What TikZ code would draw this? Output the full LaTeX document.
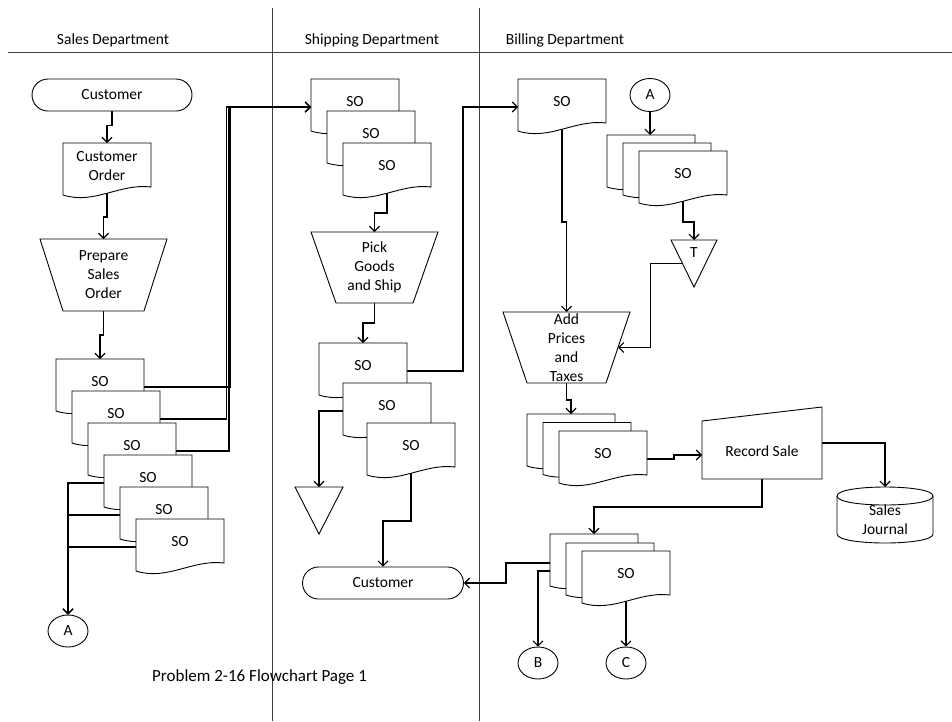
\documentclass[tikz,border=0pt]{standalone}
\usepackage{fontspec}
\setmainfont{Carlito}
\usetikzlibrary{arrows.meta,shapes.geometric,calc}
\pgfdeclarelayer{background}
\pgfsetlayers{background,main}
\tikzset{
  every node/.style={font=\fontsize{15.5}{19}\selectfont},
  shp/.style={draw=black, line width=0.9pt, fill=white},
  box/.style={draw=none, inner sep=0pt, outer sep=0pt, anchor=north west},
  docbox/.style={box, minimum width=88pt, minimum height=52pt},
  terminal/.style={shp, rounded corners=16pt, minimum width=160pt, minimum height=32pt, inner sep=0pt},
  conn/.style={shp, ellipse, minimum width=40pt, minimum height=32pt, inner sep=0pt},
  flow/.style={line width=1.1pt, -{Straight Barb[length=5pt,width=10pt]}},
  lane/.style={line width=0.9pt, draw=black!75},
  lbl/.style={inner sep=0pt, align=center},
}
\newcommand{\docnode}[4]{%
  \node[docbox] (#1) at (#2,#3) {};
  \draw[shp] (#1.north west) -- (#1.north east) -- ($(#1.north east)+(0,44)$)
    .. controls ($(#1.north west)+(57,40)$) and ($(#1.north west)+(31,62)$) .. ($(#1.north west)+(0,52)$) -- cycle;
  \node[lbl] (#1t) at ($(#1.north)+(0,23)$) {#4};
}
\newcommand{\trapnode}[7]{%
  \node[box, minimum width=#4pt, minimum height=#5pt] (#1) at (#2,#3) {};
  \draw[shp] (#1.north west) -- (#1.north east) -- ([xshift=-#6pt]#1.south east) -- ([xshift=#6pt]#1.south west) -- cycle;
  \node[lbl] (#1t) at (#1.center) {#7};
}
\begin{document}
\begin{tikzpicture}[x=1pt,y=-1pt]
\useasboundingbox (0,0) rectangle (952,721);

% headers
\node (h1) at (113,40) {Sales Department};
\node (h2) at (372,40) {Shipping Department};
\node (h3) at (565,40) {Billing Department};

% ---------- Sales ----------
\node[terminal] (cust1) at (112,95) {Customer};
\docnode{co}{63}{143}{Customer\\Order}
\trapnode{pso}{40}{239}{127}{72}{23}{Prepare\\Sales\\Order}
\docnode{s1}{56}{359}{SO}
\docnode{s2}{72}{391}{SO}
\docnode{s3}{88}{423}{SO}
\docnode{s4}{104}{455}{SO}
\docnode{s5}{120}{487}{SO}
\docnode{s6}{136}{519}{SO}
\node[conn] (aS) at (68,631) {A};

% ---------- Shipping ----------
\docnode{sh1}{311}{79}{SO}
\docnode{sh2}{327}{111}{SO}
\docnode{sh3}{343}{143}{SO}
\trapnode{pick}{311}{232}{127}{71}{25}{Pick\\Goods\\and Ship}
\docnode{sd1}{319}{343}{SO}
\docnode{sd2}{343}{383}{SO}
\docnode{sd3}{367}{423}{SO}
\node[box, minimum width=48pt, minimum height=47pt] (tri1) at (295,487) {};
\draw[shp] (tri1.north west) -- (tri1.north east) -- (tri1.south) -- cycle;
\node[terminal, minimum width=161pt] (cust2) at (383,583) {Customer};

% ---------- Billing ----------
\docnode{b1}{518}{79}{SO}
\node[conn, minimum height=33pt] (aB) at (650,95) {A};
\docnode{bs1}{607}{135}{}
\docnode{bs2}{623}{143}{}
\docnode{bs3}{639}{151}{SO}
\node[box, minimum width=46pt, minimum height=47pt] (tT) at (671,240) {};
\draw[shp] (tT.north west) -- (tT.north east) -- (tT.south) -- cycle;
\node[lbl] (tTt) at ($(tT.north)+(0,13)$) {T};
\trapnode{add}{503}{312}{127}{71}{24}{Add\\Prices\\and\\Taxes}
\docnode{bm1}{527}{414}{}
\docnode{bm2}{543}{422.5}{}
\docnode{bm3}{559}{431}{SO}
\node[box, minimum width=120pt, minimum height=72pt] (rec) at (702,407) {};
\draw[shp] (rec.south west) -- ($(rec.north west)+(0,14)$) -- (rec.north east) -- (rec.south east) -- cycle;
\node[lbl] (rect) at ($(rec.center)+(0,8)$) {Record Sale};
\node[box, minimum width=96pt, minimum height=56pt] (sj) at (837,487) {};
\draw[shp] ($(sj.north west)+(0,9)$) -- ($(sj.south west)+(0,-9)$)
  .. controls ($(sj.south west)+(0,3)$) and ($(sj.south east)+(0,3)$) .. ($(sj.south east)+(0,-9)$)
  -- ($(sj.north east)+(0,9)$)
  .. controls ($(sj.north east)+(0,-3)$) and ($(sj.north west)+(0,-3)$) .. cycle;
\draw[line width=0.9pt] ($(sj.north west)+(0,9)$) .. controls ($(sj.north west)+(0,21)$) and ($(sj.north east)+(0,21)$) .. ($(sj.north east)+(0,9)$);
\node[lbl] (sjt) at ($(sj.center)+(0,5)$) {Sales\\Journal};
\docnode{bb1}{550}{534}{}
\docnode{bb2}{566}{543}{}
\docnode{bb3}{582}{551}{SO}
\node[conn] (bC) at (538,663) {B};
\node[conn] (cC) at (626,663) {C};

\node[font=\fontsize{17}{20}\selectfont, anchor=west, inner sep=0pt] (title) at (152,677) {Problem 2-16 Flowchart Page 1};

% ---------- lines behind shapes ----------
\begin{pgfonlayer}{background}
\draw[lane] (272,8) -- (272,721);
\draw[lane] (479,8) -- (479,721);
\draw[lane] (8,52) -- (952,52);

\draw[flow] (cust1.south) -- ++(0,14) -| (co.north);
\draw[flow] (co.center) -- ($(co.south)+(0,22)$) -| (pso.north);
\draw[flow] (pso.south) -- ++(0,24) -| (s1.north);
\draw[flow] ($(s1.north east)+(0,28)$) -- ++(86,0) |- ($(sh1.north west)+(0,28)$);
\draw[flow] ($(s2.north east)+(0,28)$) -- ++(66.5,0) |- ($(sh1.north west)+(0,28)$);
\draw[flow] ($(s3.north east)+(0,28)$) -- ++(53,0) |- ($(sh1.north west)+(0,28)$);
\draw[flow] ($(s4.north west)+(0,28)$) -| (aS.north);
\draw[flow] ($(s5.north west)+(0,28)$) -| (aS.north);
\draw[flow] ($(s6.north west)+(0,28)$) -| (aS.north);

\draw[flow] (sh3.center) -- ($(sh3.south)+(0,18)$) -| (pick.north);
\draw[flow] (pick.south) -- ++(0,20) -| (sd1.north);
\draw[flow] ($(sd1.north east)+(0,28)$) -- ++(56,0) |- ($(b1.north west)+(0,28)$);
\draw[flow] ($(sd2.north west)+(0,28)$) -| (tri1.north);
\draw[flow] (sd3.center) -- ($(sd3.south)+(0,46)$) -| (cust2.north);

\draw[flow] (b1.center) -- ($(b1.south)+(0,91)$) -| (add.north);
\draw[flow] (aB.south) -- (aB.south |- bs1.north);
\draw[flow] (bs3.center) -- ($(bs3.south)+(0,19)$) -| (tT.north);
\draw[flow] ($(tT.north west)!0.5!(tT.south)$) -- ++(-32,0) |- ($(add.north east)!0.5!([xshift=-24pt]add.south east)$);
\draw[flow] (add.south) -- ++(0,17) -| (bm1.north);
\draw[flow] ($(bm3.north east)+(0,28)$) -- ++(27,0) |- ($(rec.south west)+(0,-24)$);
\draw[flow] (rec.east) -| (sj.north);
\draw[flow] (rec.south) -- ++(0,28) -| (bb1.north);
\draw[flow] ($(bb1.north west)+(0,29)$) -- ++(-44,0) |- (cust2.east);
\draw[flow] ($(bb2.north west)+(0,28)$) -| (bC.north);
\draw[flow] (bb3.center) -- (cC.north);
\end{pgfonlayer}
\end{tikzpicture}
\end{document}
